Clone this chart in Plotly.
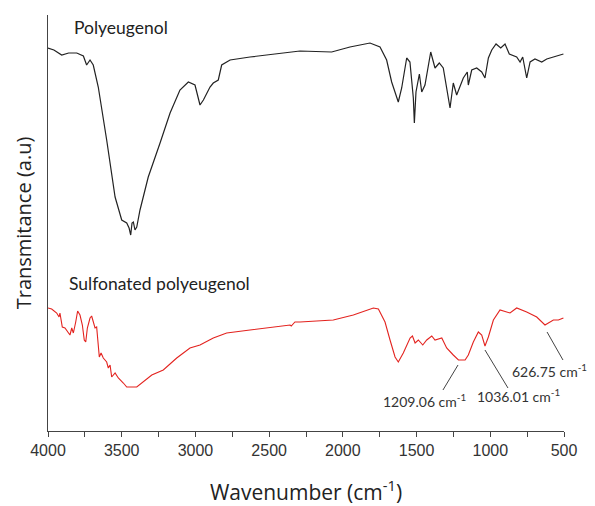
import plotly.graph_objects as go

# Polyeugenol spectrum (wavenumber cm-1, transmittance a.u.)
poly_wn = [4000, 3960, 3907, 3860, 3805, 3760, 3738, 3715, 3693, 3659, 3602, 3545, 3500, 3466,
           3450, 3439, 3430, 3421, 3410, 3398, 3376, 3320, 3240, 3172, 3105, 3048, 3003, 2969,
           2946, 2901, 2879, 2845, 2822, 2765, 2630, 2291, 2076, 1952, 1816, 1748, 1703, 1669,
           1624, 1601, 1567, 1545, 1522, 1515, 1504, 1481, 1465, 1443, 1404, 1375, 1346, 1319,
           1273, 1251, 1228, 1183, 1156, 1149, 1126, 1092, 1058, 1036, 1013, 990, 961, 929, 900,
           871, 821, 798, 780, 764, 753, 730, 697, 651, 617, 572, 504]
poly_t = [383, 381, 376, 378, 378, 375, 366, 371, 366, 344, 291, 234, 211, 208,
          203, 196, 208, 209, 201, 204, 221, 254, 288, 318, 341, 349, 346, 326,
          331, 344, 348, 351, 366, 371, 374, 380, 379, 384, 388, 384, 371, 349,
          329, 343, 373, 369, 333, 308, 339, 357, 339, 346, 379, 363, 368, 363,
          323, 348, 336, 353, 359, 346, 361, 363, 359, 353, 373, 381, 387, 383, 387,
          377, 374, 369, 374, 361, 353, 369, 372, 369, 372, 374, 377]

# Sulfonated polyeugenol spectrum
sulf_wn = [4000, 3975, 3941, 3925, 3919, 3903, 3885, 3862, 3851, 3839, 3828, 3812, 3799, 3783,
           3767, 3754, 3744, 3733, 3715, 3704, 3693, 3681, 3670, 3659, 3652, 3640, 3625, 3602,
           3591, 3579, 3568, 3545, 3523, 3489, 3466, 3398, 3353, 3296, 3218,
           3127, 3037, 2969, 2879, 2788, 2630, 2517, 2358, 2350, 2325, 2291, 2065, 1929, 1793,
           1759, 1714, 1680, 1646, 1624, 1590, 1544, 1528, 1510, 1488, 1458, 1431, 1397, 1375,
           1329, 1296, 1251, 1216, 1171, 1149, 1115, 1081, 1058, 1036, 1013, 979, 934, 866, 821,
           753, 685, 629, 572, 538, 504]
sulf_t = [123, 122, 118, 114, 118, 104, 103, 99, 96, 103, 98, 109, 120, 116,
          106, 91, 89, 103, 113, 115, 108, 103, 104, 89, 74, 78, 73, 69,
          63, 66, 54, 58, 53, 48, 44, 44, 49, 56, 61,
          73, 83, 86, 93, 98, 101, 103, 106, 105, 109, 109, 111, 116, 123,
          122, 109, 91, 74, 69, 78, 93, 95, 88, 91, 86, 91, 95, 91,
          93, 83, 76, 71, 71, 76, 89, 99, 96, 85, 94, 111, 121, 118, 123,
          119, 114, 106, 111, 111, 113]

x_ticks = [4000, 3500, 3000, 2500, 2000, 1500, 1000, 500]
peak_labels = ["1209.06", "1036.01", "626.75"]

fig = go.Figure()
fig.add_trace(go.Scatter(x=poly_wn, y=poly_t, mode="lines",
                         line=dict(color="#222222", width=1.2), showlegend=False))
fig.add_trace(go.Scatter(x=sulf_wn, y=sulf_t, mode="lines",
                         line=dict(color="#e3231f", width=1.1), showlegend=False))

# leader lines for peak labels
leaders = [((1219, 66), (1321, 41)), ((1036, 81), (880, 43)), ((615, 99), (507, 71))]
for (x0, y0), (x1, y1) in leaders:
    fig.add_shape(type="line", x0=x0, y0=y0, x1=x1, y1=y1, xref="x", yref="y",
                  line=dict(color="#444444", width=1))

label_pos = [(1443, 31), (812, 36), (600, 61)]
for (lx, ly), txt in zip(label_pos, peak_labels):
    fig.add_annotation(x=lx, y=ly, xref="x", yref="y", showarrow=False,
                       text=f"{txt} cm<sup>-1</sup>",
                       font=dict(family="Lato", size=14, color="#333333"))

fig.add_annotation(x=3837, y=404, xref="x", yref="y", showarrow=False, xanchor="left",
                   text="Polyeugenol", font=dict(family="Lato", size=17.5, color="#222222"))
fig.add_annotation(x=3871, y=148, xref="x", yref="y", showarrow=False, xanchor="left",
                   text="Sulfonated polyeugenol", font=dict(family="Lato", size=17.5, color="#222222"))

fig.update_xaxes(range=[4000, 500], tickvals=x_ticks, ticks="outside", ticklen=5,
                 tickcolor="#444444", showline=True, linecolor="#444444", linewidth=1,
                 showgrid=False, zeroline=False, automargin=False,
                 minor=dict(dtick=250, ticks="outside", ticklen=5, tickcolor="#444444"),
                 tickfont=dict(family="Liberation Sans", size=16, color="#333333"),
                 title=dict(text="Wavenumber (cm<sup>-1</sup>)", standoff=29,
                            font=dict(family="Open Sans", size=21, color="#222222")))
fig.update_yaxes(range=[0, 416], showticklabels=False, ticks="", showline=True,
                 linecolor="#444444", linewidth=1, showgrid=False, zeroline=False,
                 automargin=False,
                 title=dict(text="Transmitance (a.u)", standoff=10,
                            font=dict(family="Open Sans", size=20, color="#222222")))

# the page body adds an 8px offset, so the figure is sized to fit inside the window
fig.update_layout(width=587, height=498, margin=dict(l=40, r=31, t=7, b=75),
                  plot_bgcolor="white", paper_bgcolor="white")
fig.write_html("out.html")
